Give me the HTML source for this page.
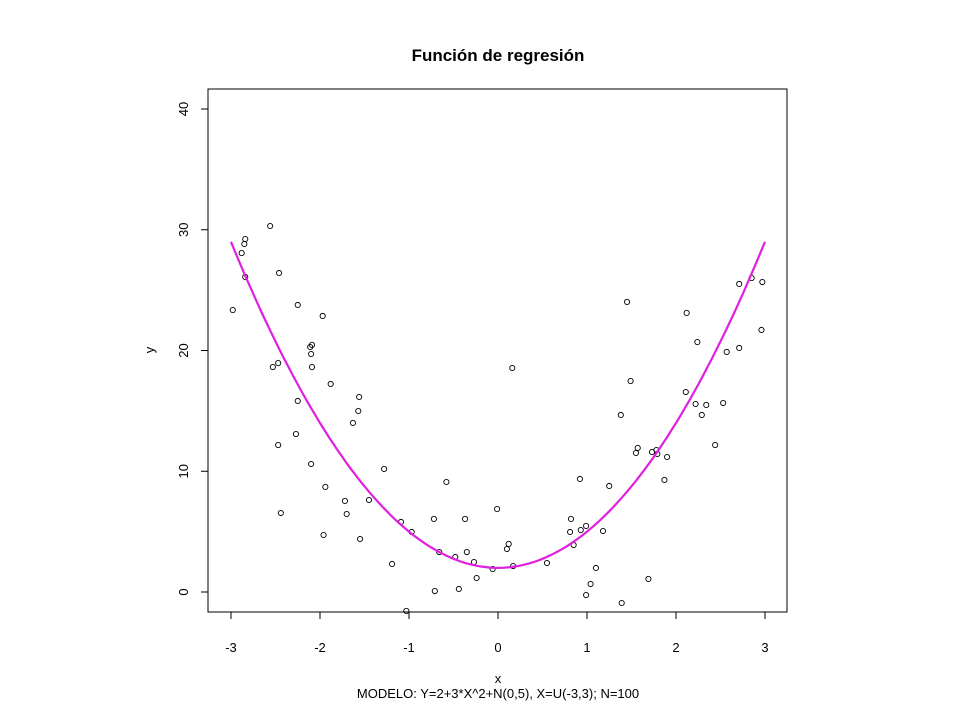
<!DOCTYPE html>
<html><head><meta charset="utf-8"><style>
html,body{margin:0;padding:0;background:#fff;}
svg{display:block;font-family:"Liberation Sans",Arial,sans-serif;}
</style></head><body>
<svg id="chart" width="960" height="720" viewBox="0 0 960 720">
<text x="498" y="61" text-anchor="middle" font-size="17" font-weight="bold">Función de regresión</text>
<rect x="208" y="89" width="579" height="523" fill="none" stroke="#000" stroke-width="1"/>
<g id="xaxis"></g>
<g id="yaxis"></g>
<text x="498" y="683" text-anchor="middle" font-size="13">x</text>
<text x="498" y="698" text-anchor="middle" font-size="13">MODELO: Y=2+3*X^2+N(0,5), X=U(-3,3);  N=100</text>
<text transform="translate(154,350) rotate(-90)" text-anchor="middle" font-size="13">y</text>
<g id="points"></g>
<path id="curve" fill="none" stroke="#e020e0" stroke-width="2.2"/>
</svg>
<script>
const xTicks = [-3,-2,-1,0,1,2,3];
const yTicks = [0,10,20,30,40];
const xs = [-2.56,-2.84,-2.85,-2.88,-2.84,-2.46,-2.98,-2.25,-1.97,-2.09,-2.11,-2.10,-2.09,-2.47,-2.53,-1.88,-1.56,-1.57,-1.63,-2.25,-2.27,-2.47,-2.10,-1.28,-1.94,-1.72,-1.45,-1.70,-2.44,-1.09,-1.96,-1.55,-1.19,0.16,-0.58,-0.01,-0.72,-0.37,-0.97,-0.66,-0.35,-0.48,-0.27,-0.06,-0.24,-0.71,-0.44,-1.03,0.12,0.10,0.17,0.55,0.92,1.25,0.82,0.81,0.93,0.99,1.18,0.85,1.10,1.04,0.99,1.39,1.69,1.45,2.12,2.71,2.85,2.97,2.96,2.24,2.57,2.71,1.49,2.11,2.22,2.34,2.53,2.29,1.38,2.44,1.57,1.55,1.73,1.78,1.79,1.90,1.87];
const ys = [30.31,29.23,28.82,28.07,26.09,26.42,23.35,23.77,22.86,20.46,20.29,19.71,18.63,18.96,18.63,17.23,16.15,14.99,14.00,15.82,13.08,12.17,10.60,10.19,8.70,7.54,7.62,6.46,6.54,5.80,4.72,4.39,2.32,18.55,9.11,6.87,6.05,6.05,4.97,3.31,3.31,2.90,2.48,1.90,1.16,0.08,0.25,-1.57,3.98,3.56,2.15,2.40,9.36,8.78,6.05,4.97,5.13,5.47,5.05,3.89,1.99,0.66,-0.25,-0.91,1.08,24.02,23.11,25.51,26.00,25.67,21.70,20.70,19.88,20.21,17.47,16.56,15.57,15.49,15.65,14.66,14.66,12.17,11.93,11.51,11.59,11.76,11.43,11.18,9.28];
const coef = [2,0,3];
const NS='http://www.w3.org/2000/svg';
const sx = v => 498 + v*89;
const sy = v => 592 - v*12.075;
const xa = document.getElementById('xaxis');
let l = document.createElementNS(NS,'line');


l.setAttribute('x1',sx(xTicks[0]));l.setAttribute('x2',sx(xTicks[xTicks.length-1]));l.setAttribute('y1',612);l.setAttribute('y2',612);l.setAttribute('stroke','#000');xa.appendChild(l);
xTicks.forEach(t=>{
  const tk=document.createElementNS(NS,'line');
  
  
  tk.setAttribute('x1',sx(t));tk.setAttribute('x2',sx(t));tk.setAttribute('y1',612);tk.setAttribute('y2',619);tk.setAttribute('stroke','#000');xa.appendChild(tk);
  const tx=document.createElementNS(NS,'text');
  
  
  tx.setAttribute('x',sx(t));tx.setAttribute('y',652);tx.setAttribute('text-anchor','middle');tx.setAttribute('font-size','13');tx.textContent=t;xa.appendChild(tx);
});
const ya = document.getElementById('yaxis');
l = document.createElementNS(NS,'line');


l.setAttribute('x1',208);l.setAttribute('x2',208);l.setAttribute('y1',sy(yTicks[0]));l.setAttribute('y2',sy(yTicks[yTicks.length-1]));l.setAttribute('stroke','#000');ya.appendChild(l);
yTicks.forEach(t=>{
  const tk=document.createElementNS(NS,'line');
  
  
  tk.setAttribute('x1',201);tk.setAttribute('x2',208);tk.setAttribute('y1',sy(t));tk.setAttribute('y2',sy(t));tk.setAttribute('stroke','#000');ya.appendChild(tk);
  const tx=document.createElementNS(NS,'text');
  
  
  tx.setAttribute('transform','translate(188,'+sy(t)+') rotate(-90)');tx.setAttribute('text-anchor','middle');tx.setAttribute('font-size','13');tx.textContent=t;ya.appendChild(tx);
});
const pg=document.getElementById('points');
xs.forEach((x,i)=>{
  const c=document.createElementNS(NS,'circle');
  
  
  c.setAttribute('cx',sx(x));c.setAttribute('cy',sy(ys[i]));c.setAttribute('r',2.6);c.setAttribute('fill','none');c.setAttribute('stroke','#000');c.setAttribute('stroke-width','0.9');pg.appendChild(c);
});
let d='';
for(let i=0;i<=120;i++){const x=-3+6*i/120;const y=coef[0]+coef[1]*x+coef[2]*x*x;d+=(i?'L':'M')+sx(x).toFixed(1)+','+sy(y).toFixed(1);}
document.getElementById('curve').setAttribute('d',d);
</script>
</body></html>
